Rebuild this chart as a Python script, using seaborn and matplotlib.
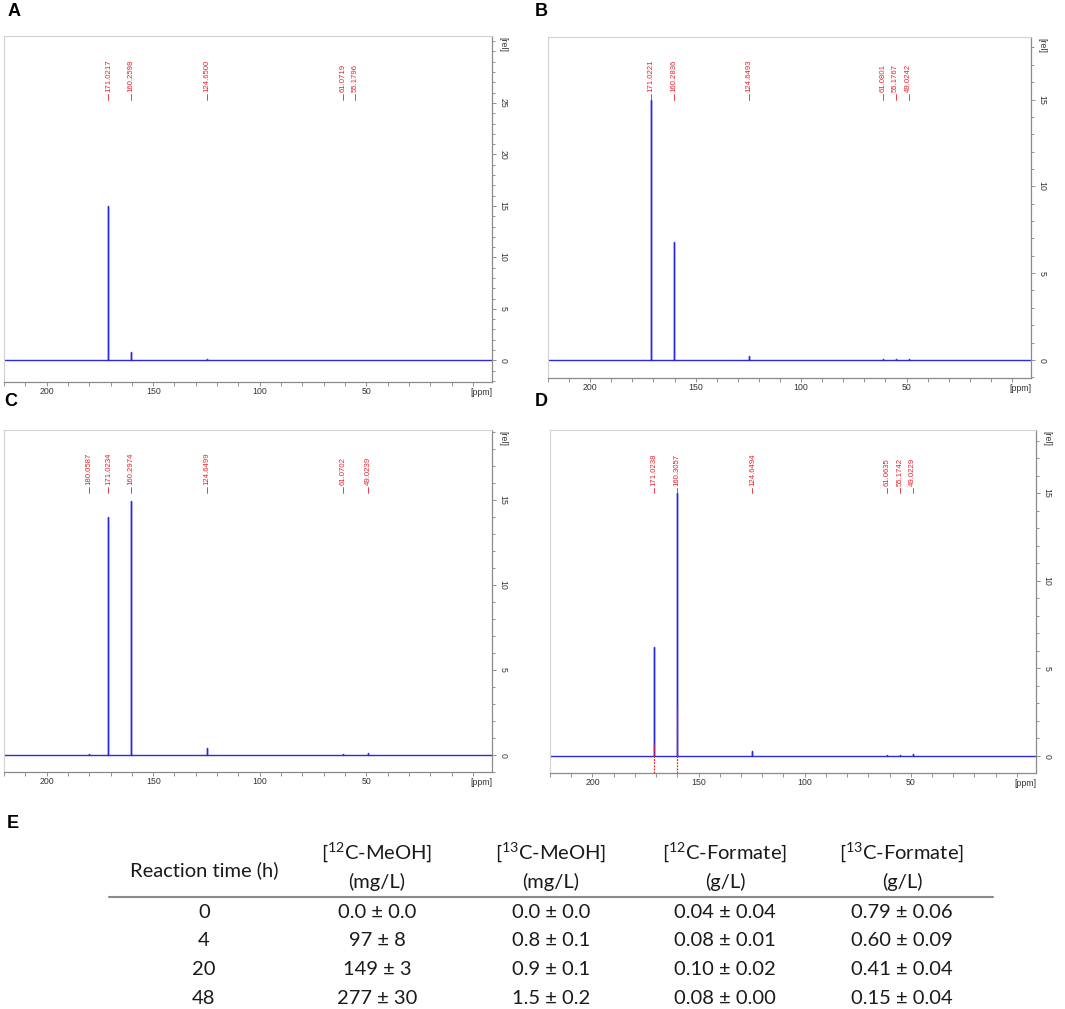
import pandas as pd
import seaborn as sns
import matplotlib.pyplot as plt
import matplotlib.transforms as mtransforms
from matplotlib.ticker import MultipleLocator
from matplotlib.lines import Line2D

# peak picks (ppm, as printed) and stick heights [rel]
a_labels = ['171.0217', '160.2598', '124.6500', '61.0719', '55.1796']
a_heights = [15.0, 0.8, 0.1, 0.05, 0.05]
b_labels = ['171.0221', '160.2836', '124.6493', '61.0801', '55.1767', '49.0242']
b_heights = [15.0, 6.8, 0.2, 0.05, 0.05, 0.05]
c_labels = ['180.0587', '171.0234', '160.2974', '124.6499', '61.0702', '49.0239']
c_heights = [0.05, 14.0, 14.9, 0.4, 0.05, 0.1]
d_labels = ['171.0238', '160.3057', '124.6494', '61.0635', '55.1742', '49.0229']
d_heights = [6.2, 15.0, 0.3, 0.05, 0.05, 0.1]
# red dotted integral marks under the two big peaks of D
d_marks = [171.0238, 160.3057]
d_mark_tops = [0.7, 2.8]

ylims = {'A': (-2.1, 31.5), 'B': (-1.04, 18.6), 'C': (-1.0, 19.1), 'D': (-0.97, 18.6)}
ytick_max = {'A': 25, 'B': 15, 'C': 15, 'D': 15}

# table E
times = ['0', '4', '20', '48']
meoh12 = ['0.0 ± 0.0', '97 ± 8', '149 ± 3', '277 ± 30']
meoh13 = ['0.0 ± 0.0', '0.8 ± 0.1', '0.9 ± 0.1', '1.5 ± 0.2']
form12 = ['0.04 ± 0.04', '0.08 ± 0.01', '0.10 ± 0.02', '0.08 ± 0.00']
form13 = ['0.79 ± 0.06', '0.60 ± 0.09', '0.41 ± 0.04', '0.15 ± 0.04']
head1 = [r'[$^{12}$C-MeOH]', r'[$^{13}$C-MeOH]', r'[$^{12}$C-Formate]', r'[$^{13}$C-Formate]']
head2 = ['(mg/L)', '(mg/L)', '(g/L)', '(g/L)']

sns.set_theme(style='white')
plt.rcParams['font.family'] = ['Liberation Sans', 'DejaVu Sans']
plt.rcParams['mathtext.fontset'] = 'custom'
plt.rcParams['mathtext.rm'] = 'Lato'

W, H = 1065, 1009
fig = plt.figure(figsize=(W / 100, H / 100), dpi=100)

def fx(x):
    return x / W

def fy(y):
    return 1 - y / H

def box(l, t, r, b):
    return [fx(l), fy(b), (r - l) / W, (b - t) / H]

blue = '#2a2ae6'
red = '#e8202c'

def spectrum(ax, key, labels, heights):
    ppm = [float(s) for s in labels]
    xs, ys = [222.0], [0.0]
    for p, h in sorted(zip(ppm, heights), reverse=True):
        xs += [p, p, p]
        ys += [0.0, h, 0.0]
    xs.append(-12.0)
    ys.append(0.0)
    df = pd.DataFrame({'ppm': xs, 'rel': ys})
    sns.lineplot(data=df, x='ppm', y='rel', sort=False, estimator=None,
                 color=blue, lw=1.0, ax=ax)
    ax.set_xlim(220, -9)
    ax.set_ylim(*ylims[key])
    ax.set_xlabel('')
    ax.set_ylabel('')

    trans = mtransforms.blended_transform_factory(ax.transData, ax.transAxes)
    for p, s in zip(ppm, labels):
        ax.text(p, 0.838, s, transform=trans, rotation=90, ha='center', va='bottom',
                fontsize=5.6, color=red)
        ax.plot([p, p], [0.815, 0.832], transform=trans, color=red, lw=0.6)

    ax.set_xticks([200, 150, 100, 50, 0])
    ax.set_xticklabels(['200', '150', '100', '50', ''])
    ax.xaxis.set_minor_locator(MultipleLocator(10))
    ax.text(-4, -0.018, '[ppm]', transform=trans, ha='center', va='top',
            fontsize=6.3, color='#333333')

    ax.yaxis.tick_right()
    ax.set_yticks(list(range(0, ytick_max[key] + 1, 5)))
    ax.yaxis.set_minor_locator(MultipleLocator(1))
    for lab in ax.get_yticklabels():
        lab.set_rotation(-90)
        lab.set_va('center')
    ax.text(1.022, 0.975, '[rel]', transform=ax.transAxes, rotation=-90,
            ha='center', va='center', fontsize=6.3, color='#333333')

    ax.tick_params(axis='both', which='both', direction='out', length=3, width=0.6,
                   color='#808080', labelsize=6.3, labelcolor='#333333')
    ax.tick_params(axis='x', which='major', pad=0.5)
    ax.tick_params(axis='y', which='major', pad=1.5)
    ax.tick_params(axis='y', which='minor', length=2.5)
    ax.tick_params(bottom=True, right=True, left=False, top=False)
    ax.tick_params(which='minor', bottom=True, right=True, left=False, top=False)
    for side in ['top', 'left']:
        ax.spines[side].set_color('#d2d2d2')
        ax.spines[side].set_linewidth(0.8)
    for side in ['bottom', 'right']:
        ax.spines[side].set_color('#8a8a8a')
        ax.spines[side].set_linewidth(0.9)
    return trans

axA = fig.add_axes(box(4, 36, 492, 382))
spectrum(axA, 'A', a_labels, a_heights)
axB = fig.add_axes(box(548, 37, 1031, 378))
spectrum(axB, 'B', b_labels, b_heights)
axC = fig.add_axes(box(4, 430, 492, 772))
spectrum(axC, 'C', c_labels, c_heights)
axD = fig.add_axes(box(550, 430, 1036, 773))
spectrum(axD, 'D', d_labels, d_heights)
axD.vlines(d_marks, ylims['D'][0], d_mark_tops, color=red, lw=0.9,
           linestyles=(0, (1.5, 1)), zorder=5)

for letter, x, y in [('A', 14, 12), ('B', 541, 12), ('C', 11, 401), ('D', 541, 401), ('E', 13, 824)]:
    fig.text(fx(x), fy(y), letter, fontsize=13, fontweight='bold', ha='center', va='center',
             family=['Liberation Sans', 'DejaVu Sans'], color='black')

# table E
tfont = ['Lato', 'DejaVu Sans']
tsize = 14.5
col_x = [204, 377, 551, 725, 902]
row_y = [912, 940.7, 969.4, 998]
fig.text(fx(col_x[0]), fy(870), 'Reaction time (h)', ha='center', va='center',
         fontsize=tsize, family=tfont, color='#1a1a1a')
for cx, h1, h2 in zip(col_x[1:], head1, head2):
    fig.text(fx(cx), fy(853), h1, ha='center', va='center', fontsize=tsize, family=tfont, color='#1a1a1a')
    fig.text(fx(cx), fy(882), h2, ha='center', va='center', fontsize=tsize, family=tfont, color='#1a1a1a')
fig.add_artist(Line2D([fx(109), fx(993)], [fy(897), fy(897)], color='#8a8a8a', lw=1.5))
for i, ry in enumerate(row_y):
    for cx, col in zip(col_x, [times, meoh12, meoh13, form12, form13]):
        fig.text(fx(cx), fy(ry), col[i], ha='center', va='center', fontsize=tsize,
                 family=tfont, color='#1a1a1a')

fig.savefig('out.png', dpi=100)
